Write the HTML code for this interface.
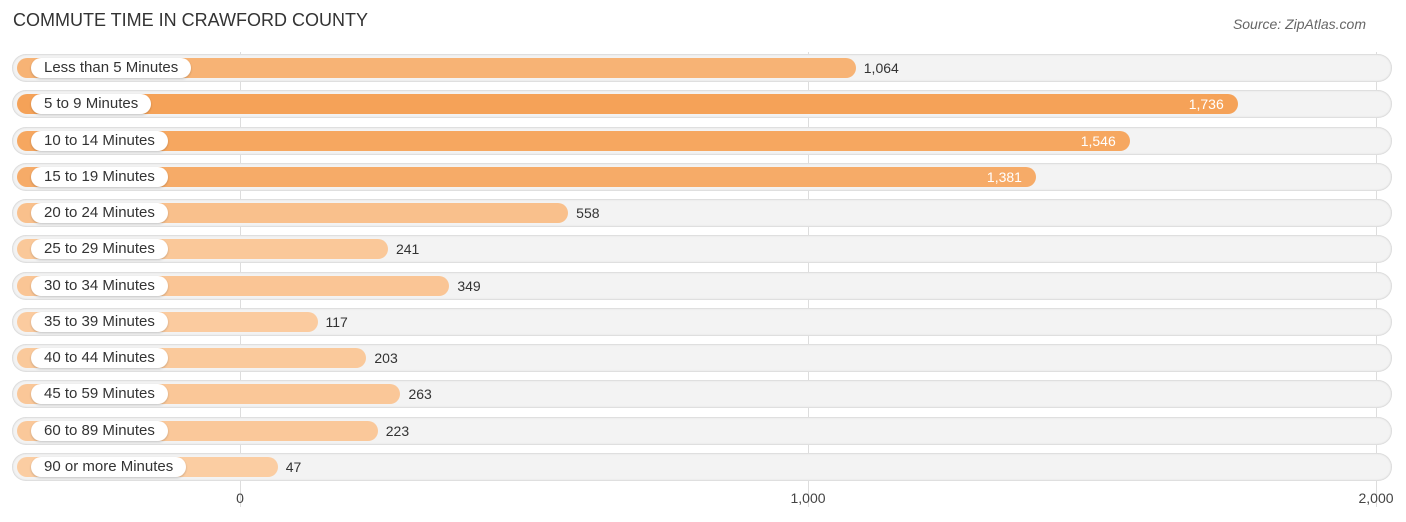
<!DOCTYPE html>
<html><head><meta charset="utf-8"><style>
body{margin:0;width:1406px;height:522px;background:#fff;font-family:"Liberation Sans",sans-serif;position:relative;overflow:hidden}
.t{position:absolute;left:13px;top:10px;font-size:18px;color:#333}
.s{position:absolute;right:40px;top:16px;font-size:14px;color:#666;font-style:italic}
.row{position:absolute;left:12px;width:1380px;height:28px;border-radius:14px;background:#f3f3f3;box-shadow:0 0 2px rgba(0,0,0,.25) inset}
.bar{position:absolute;left:17px;height:20px;border-radius:10px}
.lab{position:absolute;left:31px;height:20px;border-radius:10px;background:#fff;font-size:15px;color:#333;line-height:20px;padding:0 13px;box-shadow:0 1px 2px rgba(0,0,0,.2);white-space:nowrap}
.val{position:absolute;font-size:14px;line-height:20px}
.grid{position:absolute;top:52px;height:455px;width:1px;background:#ddd}
.tick{position:absolute;top:490px;font-size:14px;color:#444;transform:translateX(-50%)}
</style></head><body>
<div class="t">COMMUTE TIME IN CRAWFORD COUNTY</div>
<div class="s">Source: ZipAtlas.com</div>
<div id="c"></div>
<script>
const categories=["Less than 5 Minutes","5 to 9 Minutes","10 to 14 Minutes","15 to 19 Minutes","20 to 24 Minutes","25 to 29 Minutes","30 to 34 Minutes","35 to 39 Minutes","40 to 44 Minutes","45 to 59 Minutes","60 to 89 Minutes","90 or more Minutes"];
const values=[1064,1736,1546,1381,558,241,349,117,203,263,223,47];
const tickValues=[0,1000,2000];
const tickLabels=["0","1,000","2,000"];
const c=document.getElementById('c');
const x=v=>251+v*0.5684;
const gx=v=>240+v*0.568;
const rowY=i=>54+i*36.25;
function col(v){const t=Math.min(1,v/1736);const a=[251,206,164],b=[245,162,88];return `rgb(${a.map((q,k)=>Math.round(q+(b[k]-q)*t)).join(',')})`;}
tickValues.forEach((v,i)=>{
 const g=document.createElement('div');g.className='grid';g.style.left=gx(v)+'px';
 
 
 c.appendChild(g);
 const t=document.createElement('div');t.className='tick';t.style.left=gx(v)+'px';t.textContent=tickLabels[i];
 
 
 c.appendChild(t);
});
categories.forEach((cat,i)=>{
 const y=rowY(i),v=values[i];
 const r=document.createElement('div');r.className='row';r.style.top=y+'px';
 
 
 c.appendChild(r);
 const b=document.createElement('div');b.className='bar';b.style.top=(y+4)+'px';b.style.width=(x(v)-17)+'px';b.style.background=col(v);
 
 
 c.appendChild(b);
 const l=document.createElement('div');l.className='lab';l.style.top=(y+4)+'px';l.textContent=cat;
 
 
 c.appendChild(l);
 const t=document.createElement('div');t.className='val';t.style.top=(y+4)+'px';t.textContent=v.toLocaleString('en-US');
 
 
 if(v>1300){t.style.right=(1406-x(v)+14)+'px';t.style.color='#fff';}else{t.style.left=(x(v)+8)+'px';t.style.color='#333';}
 c.appendChild(t);
});
</script>
</body></html>
